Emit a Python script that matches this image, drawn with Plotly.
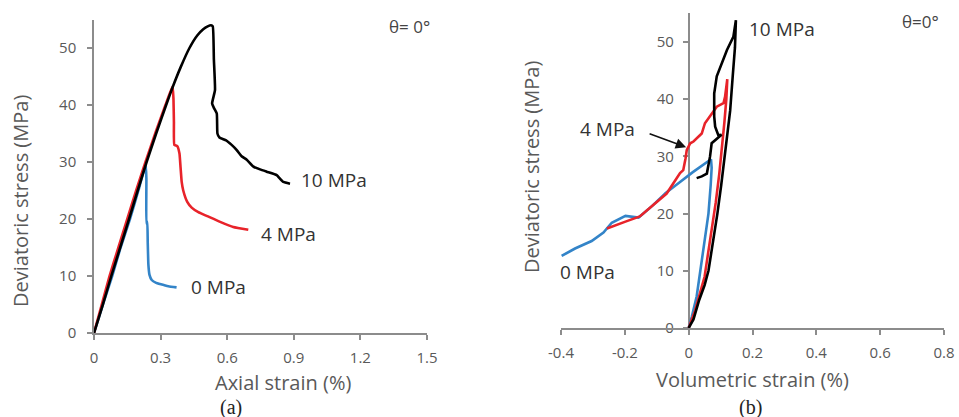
import plotly.graph_objects as go

# ---------------- Panel (a): deviatoric stress vs axial strain ----------------
a_blue_x = [0, 0.04, 0.082, 0.12, 0.162, 0.2, 0.233, 0.236, 0.236, 0.24, 0.242, 0.245, 0.25, 0.26, 0.28, 0.297, 0.335, 0.372]
a_blue_y = [0, 5, 10, 15, 20, 25, 29.5, 27, 19.2, 19.5, 16, 12, 10.2, 9.3, 8.8, 8.6, 8.2, 8.0]

a_red_x = [0, 0.035, 0.07, 0.11, 0.15, 0.19, 0.232, 0.28, 0.322, 0.354, 0.358, 0.36, 0.362, 0.375, 0.385, 0.39, 0.395, 0.402, 0.42, 0.44, 0.47, 0.51, 0.568, 0.627, 0.695]
a_red_y = [0, 5, 10, 15, 20, 25, 30, 35.5, 40, 43.3, 41, 37, 33, 32.8, 31.5, 29, 26.5, 25, 23, 22, 21.2, 20.5, 19.5, 18.6, 18.1]

a_black_x = [0, 0.04, 0.078, 0.118, 0.158, 0.197, 0.237, 0.28, 0.325, 0.355, 0.39, 0.43, 0.465, 0.492, 0.512, 0.527, 0.535, 0.54, 0.545, 0.532, 0.54, 0.553, 0.556, 0.565, 0.595, 0.62, 0.643, 0.665, 0.688, 0.718, 0.748, 0.778, 0.823, 0.835, 0.853, 0.883]
a_black_y = [0, 5, 10, 15, 20, 25, 30, 35, 40, 43.2, 46.6, 50, 52.2, 53.3, 53.8, 54, 53.8, 48, 42.6, 40.3, 39.5, 38.5, 35, 34.3, 33.8, 33, 32.1, 31, 30.4, 29.2, 28.7, 28.3, 27.7, 27.2, 26.5, 26.2]

a_xticks = [0, 0.3, 0.6, 0.9, 1.2, 1.5]
a_xtick_text = ["0", "0.3", "0.6", "0.9", "1.2", "1.5"]
yticks = [0, 10, 20, 30, 40, 50]
ytick_text = ["0", "10", "20", "30", "40", "50"]

# ---------------- Panel (b): deviatoric stress vs volumetric strain ----------------
b_blue_x = [0, 0.01, 0.025, 0.036, 0.05, 0.062, 0.069, 0.072, 0.07, 0.054, 0.012, -0.03, -0.072, -0.115, -0.157, -0.198, -0.241, -0.267, -0.304, -0.356, -0.398]
b_blue_y = [0, 2, 5.5, 10, 15, 20, 25, 28, 29.5, 28.9, 27.2, 25.4, 23.6, 21.3, 19.3, 19.6, 18.4, 16.7, 15.2, 13.9, 12.6]

b_red_x = [0, 0.02, 0.03, 0.05, 0.058, 0.072, 0.085, 0.096, 0.104, 0.112, 0.118, 0.121, 0.114, 0.109, 0.088, 0.072, 0.051, 0.041, 0.03, 0.015, 0.005, -0.006, -0.01, -0.017, -0.027, -0.048, -0.069, -0.111, -0.153, -0.198, -0.256]
b_red_y = [0, 3, 5, 9, 12, 17, 22, 27, 31, 36, 40, 43.5, 40.4, 39.3, 38.7, 37.5, 35.8, 34, 33.4, 32.6, 32.3, 31.1, 29.6, 27.6, 27.1, 25.3, 23.5, 21.5, 19.5, 18.6, 17.4]

b_black_x = [0, 0.015, 0.033, 0.05, 0.062, 0.077, 0.09, 0.102, 0.112, 0.122, 0.13, 0.138, 0.145, 0.148, 0.14, 0.12, 0.099, 0.088, 0.08, 0.08, 0.083, 0.093, 0.103, 0.072, 0.067, 0.062, 0.057, 0.041, 0.025]
b_black_y = [0, 1.5, 4.9, 7.5, 10, 15, 20, 25, 29.4, 34, 38, 44, 49, 53.8, 50.9, 48.6, 45.7, 44, 41, 37, 35.2, 33.7, 33.8, 32.3, 30, 28.2, 27, 26.5, 26.2]

b_xticks = [-0.4, -0.2, 0, 0.2, 0.4, 0.6, 0.8]
b_xtick_text = ["-0.4", "-0.2", "0", "0.2", "0.4", "0.6", "0.8"]

BLUE = "#3384c8"
RED = "#e8232a"
BLACK = "#000000"
AXC = "#8c8c8c"
TXT = "#595959"
FONT = "Open Sans"
LW = 2.6

fig = go.Figure()
for xs, ys, c in [(a_blue_x, a_blue_y, BLUE), (a_red_x, a_red_y, RED), (a_black_x, a_black_y, BLACK)]:
    fig.add_trace(go.Scatter(x=xs, y=ys, mode="lines", line=dict(color=c, width=LW, shape="spline", smoothing=0.4),
                             xaxis="x", yaxis="y", showlegend=False, hoverinfo="skip"))
for xs, ys, c in [(b_blue_x, b_blue_y, BLUE), (b_red_x, b_red_y, RED), (b_black_x, b_black_y, BLACK)]:
    fig.add_trace(go.Scatter(x=xs, y=ys, mode="lines", line=dict(color=c, width=LW),
                             xaxis="x2", yaxis="y2", showlegend=False, hoverinfo="skip"))

W, H = 959, 417
def fx(px):
    return px / W
def fy(py):
    return 1 - py / H

tickfont = dict(family=FONT, size=15, color=TXT)
common = dict(showgrid=False, zeroline=False, showline=True, linecolor=AXC, linewidth=1.5,
              ticks="outside", ticklen=5, tickcolor=AXC, tickwidth=1.5, tickfont=tickfont,
              automargin=False)

fig.update_layout(
    width=W, height=H, margin=dict(l=0, r=0, t=0, b=0, autoexpand=False),
    paper_bgcolor="white", plot_bgcolor="white",
    xaxis=dict(domain=[fx(94), fx(427)], range=[0, 1.5], anchor="y",
               tickvals=a_xticks, ticktext=a_xtick_text, ticklabelstandoff=5, **common),
    yaxis=dict(domain=[fy(333), fy(19.5)], range=[0, 55], anchor="x",
               tickvals=yticks, ticktext=ytick_text, ticklabelstandoff=8, **common),
    xaxis2=dict(domain=[fx(561), fx(944)], range=[-0.4, 0.8], anchor="y2",
                tickvals=b_xticks, ticktext=b_xtick_text, ticklabelstandoff=5, **common),
    yaxis2=dict(domain=[fy(328), fy(13.4)], range=[0, 55], anchor="free", position=fx(688.7),
                tickvals=yticks, ticktext=ytick_text, ticklabelstandoff=6,
                layer="below traces", **common),
)

ann_font = dict(family=FONT, size=19, color="#333333")
title_font = dict(family=FONT, size=20, color=TXT)
cap_font = dict(family="Liberation Serif", size=20, color="#222222")

def pa(px, py, text, font, **kw):
    fig.add_annotation(x=fx(px), y=fy(py), xref="paper", yref="paper", text=text,
                       showarrow=False, font=font, xanchor="center", yanchor="middle", **kw)

# panel (a) labels
pa(334, 180, "10 MPa", ann_font)
pa(288, 234, "4 MPa", ann_font)
pa(218, 287, "0 MPa", ann_font)
pa(409, 26, "θ= 0°", dict(family=FONT, size=17, color="#444444"))
pa(283, 382, "Axial strain (%)", title_font)
pa(20, 201, "Deviatoric stress (MPa)", title_font, textangle=-90)
pa(231, 407, "(a)", cap_font)

# panel (b) labels
pa(782, 29, "10 MPa", ann_font)
pa(607, 129, "4 MPa", ann_font)
pa(587, 272, "0 MPa", ann_font)
pa(920, 21, "θ=0°", dict(family=FONT, size=17, color="#444444"))
pa(752, 379, "Volumetric strain (%)", title_font)
pa(532, 167, "Deviatoric stress (MPa)", title_font, textangle=-90)
pa(750, 407, "(b)", cap_font)

# arrow pointing to the 4 MPa curve
fig.add_annotation(x=-0.008, y=31.6, xref="x2", yref="y2", ax=-38, ay=-14,
                   showarrow=True, arrowhead=2, arrowsize=1.3, arrowwidth=1.6,
                   arrowcolor="#111111", text="")

fig.write_html("out.html")
